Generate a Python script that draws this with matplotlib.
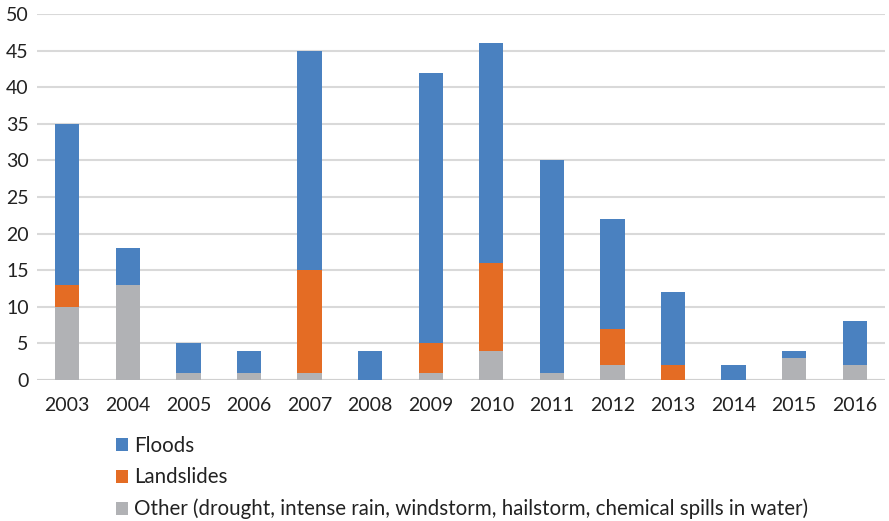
import matplotlib
matplotlib.use("Agg")
import matplotlib.pyplot as plt
import numpy as np

plt.rcParams['font.family'] = ['Lato', 'DejaVu Sans']

years = ["2003", "2004", "2005", "2006", "2007", "2008", "2009",
         "2010", "2011", "2012", "2013", "2014", "2015", "2016"]
other = [10, 13, 1, 1, 1, 0, 1, 4, 1, 2, 0, 0, 3, 2]
landslides = [3, 0, 0, 0, 14, 0, 4, 12, 0, 5, 2, 0, 0, 0]
floods = [22, 5, 4, 3, 30, 4, 37, 30, 29, 15, 10, 2, 1, 6]

labels = ["Floods", "Landslides",
          "Other (drought, intense rain, windstorm, hailstorm, chemical spills in water)"]
colors = ["#4a81c0", "#e46c24", "#b1b2b5"]

fig = plt.figure(figsize=(8.89, 5.21), dpi=100)
ax = fig.add_axes([0.0416, 0.2706, 0.9539, 0.7025])

x = np.arange(len(years))
w = 0.4
other = np.array(other)
landslides = np.array(landslides)
floods = np.array(floods)

b_other = ax.bar(x, other, w, color=colors[2], zorder=3)
b_land = ax.bar(x, landslides, w, bottom=other, color=colors[1], zorder=3)
b_flood = ax.bar(x, floods, w, bottom=other + landslides, color=colors[0], zorder=3)

ax.set_xlim(-0.5, len(years) - 0.5)
ax.set_ylim(0, 50)
ax.set_yticks(range(0, 51, 5))
ax.set_xticks(x)
ax.set_xticklabels(years)
ax.yaxis.grid(True, color="#d9d9d9", linewidth=1.5, zorder=0)
ax.set_axisbelow(True)
for s in ax.spines.values():
    s.set_visible(False)
ax.axhline(0, color="#d0d0d0", linewidth=1.5, zorder=2)
ax.tick_params(length=0, labelsize=14, colors="#222222")
ax.tick_params(axis="x", pad=12)
ax.tick_params(axis="y", pad=6)

fig.legend([b_flood, b_land, b_other], labels, loc="upper left",
           bbox_to_anchor=(0.130, 0.163), frameon=False, fontsize=14.8,
           handlelength=0.6, handleheight=0.6, handletextpad=0.3,
           labelspacing=0.55, borderaxespad=0, borderpad=0,
           labelcolor="#222222")

fig.savefig("out.png", dpi=100)
